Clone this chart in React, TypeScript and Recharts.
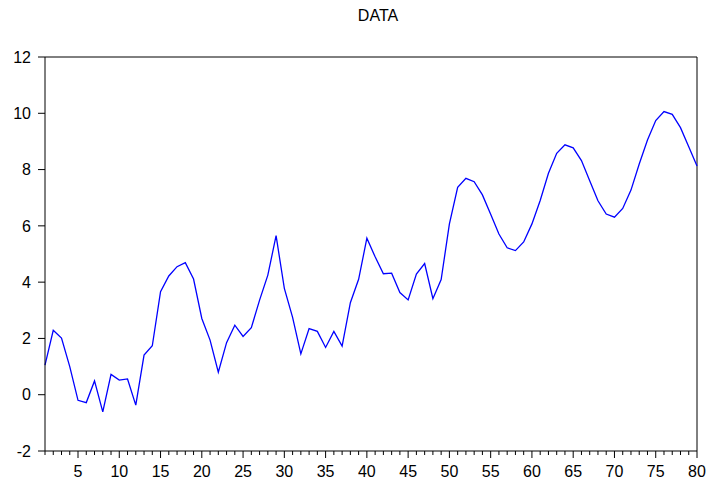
import React from 'react';
import { LineChart, Line, XAxis, YAxis, ReferenceLine } from 'recharts';

// observation index 1..80
const periods = Array.from({ length: 80 }, (_, i) => i + 1);

const values = [
  1.05, 2.29, 2.01, 1.0, -0.2, -0.28, 0.49, -0.61, 0.72, 0.52,
  0.56, -0.37, 1.41, 1.74, 3.66, 4.22, 4.55, 4.69, 4.11, 2.71,
  1.94, 0.8, 1.85, 2.47, 2.07, 2.38, 3.36, 4.25, 5.65, 3.78,
  2.75, 1.45, 2.35, 2.25, 1.68, 2.25, 1.73, 3.27, 4.1, 5.56,
  4.9, 4.3, 4.32, 3.63, 3.37, 4.29, 4.66, 3.41, 4.09, 6.07,
  7.37, 7.69, 7.57, 7.1, 6.41, 5.71, 5.22, 5.12, 5.43, 6.07,
  6.9, 7.87, 8.58, 8.88, 8.77, 8.32, 7.6, 6.89, 6.42, 6.31,
  6.62, 7.27, 8.2, 9.05, 9.74, 10.06, 9.96, 9.49, 8.81, 8.13,
];

const yTicks = [-2, 0, 2, 4, 6, 8, 10, 12];

const data = periods.map((p, i) => ({ t: p, value: values[i] }));

const FONT = '"Liberation Sans", Arial, sans-serif';

function XTick(props: any) {
  const { x, y, payload } = props;
  const major = payload.value % 5 === 0;
  return (
    <g>
      <line x1={x} x2={x} y1={y} y2={y + (major ? 7 : 4)} stroke="#000" />
      {major && (
        <text x={x} y={y + 26} textAnchor="middle" fontSize={16} fontFamily={FONT} fill="#000">
          {payload.value}
        </text>
      )}
    </g>
  );
}

export default function App() {
  return (
    <div style={{ position: 'relative', width: 709, height: 484 }}>
      <style>{`body{margin:0;}`}</style>
      <div
        style={{
          position: 'absolute',
          top: 7,
          left: 0,
          width: 756,
          textAlign: 'center',
          fontFamily: FONT,
          fontSize: 16,
          color: '#000',
        }}
      >
        DATA
      </div>
      <LineChart width={709} height={484} data={data} margin={{ top: 57, right: 12, bottom: 0, left: 0 }}>
        <XAxis
          dataKey="t"
          type="number"
          domain={[1, 80]}
          ticks={periods}
          interval={0}
          height={33}
          tickSize={0}
          tickMargin={0}
          tickLine={false}
          tick={<XTick />}
          axisLine={{ stroke: '#000' }}
        />
        <YAxis
          type="number"
          domain={[-2, 12]}
          ticks={yTicks}
          interval={0}
          width={45}
          tickSize={7}
          tickMargin={7}
          tick={{ fontSize: 16, fontFamily: FONT, fill: '#000' }}
          tickLine={{ stroke: '#000' }}
          axisLine={{ stroke: '#000' }}
        />
        <ReferenceLine y={12} stroke="#000" />
        <ReferenceLine x={80} stroke="#000" />
        <Line
          type="linear"
          dataKey="value"
          stroke="#0000ff"
          strokeWidth={1.3}
          dot={false}
          isAnimationActive={false}
        />
      </LineChart>
    </div>
  );
}
